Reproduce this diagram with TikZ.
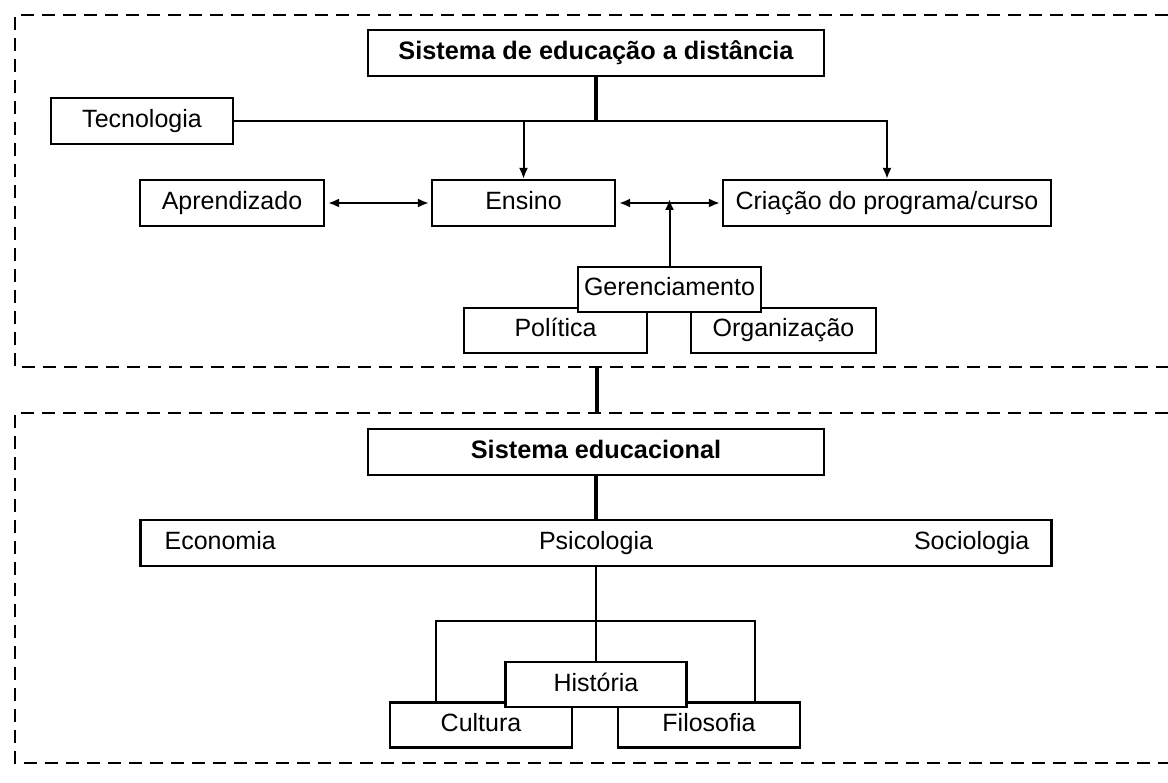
\documentclass[tikz,border=0pt]{standalone}
\usepackage{fontspec}
\setmainfont{Liberation Sans}
\usetikzlibrary{arrows.meta}

\tikzset{
  box/.style={draw, line width=2.2pt, fill=white, inner sep=0pt,
              minimum height=46pt, text height=18pt, text depth=5pt,
              font=\fontsize{25}{30}\selectfont},
  title/.style={box, font=\fontsize{25.3}{30}\selectfont\bfseries},
  lbl/.style={inner sep=0pt, text height=18pt, text depth=5pt,
              font=\fontsize{25}{30}\selectfont},
  frame/.style={line width=2.6pt, dash pattern=on 13pt off 8pt},
  link/.style={line width=2pt},
  thick link/.style={line width=4.5pt},
  tip/.style={-{Latex[length=11pt,width=9pt]}, line width=2pt},
  both tips/.style={{Latex[length=11pt,width=9pt]}-{Latex[length=11pt,width=9pt]}, line width=2pt}
}

\begin{document}
\begin{tikzpicture}[x=1pt,y=-1pt]
  \useasboundingbox (0,0) rectangle (1168,783);

  % dashed frames (open on the right)
  \draw[frame] (1168,15) -- (15,15) -- (15,367) -- (1168,367);
  \draw[frame] (1168,413) -- (15,413) -- (15,763) -- (1168,763);
  \coordinate (upperlink) at (597,367);
  \coordinate (lowerlink) at (597,413);
  \draw[thick link] (upperlink) -- (lowerlink);

  % upper system
  \node[title, minimum width=456pt] (sed) at (596,53) {Sistema de educação a distância};
  \node[box, minimum width=182pt] (tec) at (142,121) {Tecnologia};
  \node[box, minimum width=184pt] (apr) at (232,203) {Aprendizado};
  \node[box, minimum width=183pt] (ens) at (523.5,203) {Ensino};
  \node[box, minimum width=328pt] (cri) at (887,203) {Criação do programa/curso};

  \node[box, minimum width=183pt, minimum height=45pt] (pol) at (555.5,330.5) {Política};
  \node[box, minimum width=185pt, minimum height=45pt] (org) at (783.5,330.5) {Organização};
  \node[box, minimum width=183pt, minimum height=45pt] (ger) at (669.5,289.5) {Gerenciamento};

  \coordinate (junction) at (sed.south |- tec.east);
  \draw[thick link] (sed.south) -- (junction);
  \draw[link] (tec.east) -- (junction);
  \draw[tip] (tec.east) -| (cri.north);
  \draw[tip] (ens.north |- tec.east) -- (ens.north);
  \draw[both tips, shorten <=3pt, shorten >=2pt] (apr.east) -- (ens.west);
  \draw[both tips, shorten <=3pt, shorten >=2pt] (ens.east) -- (cri.west);
  \coordinate (mgmttip) at ([yshift=4pt]ger.north |- ens.east);
  \draw[tip] (ger.north) -- (mgmttip);

  % educational system
  \node[title, minimum width=456pt] (sedu) at (596,452) {Sistema educacional};
  \node[box, minimum width=911pt] (disc) at (596,543) {};
  \node[lbl, anchor=west] (eco) at ([xshift=25pt]disc.west) {Economia};
  \node[lbl] (psi) at (disc.center) {Psicologia};
  \node[lbl, anchor=east] (soc) at ([xshift=-23pt]disc.east) {Sociologia};
  \draw[thick link] (sedu.south) -- (disc.north);

  \node[box, minimum width=182pt, minimum height=45pt] (cul) at (481,725) {Cultura};
  \node[box, minimum width=182pt, minimum height=45pt] (fil) at (709,725) {Filosofia};
  \node[box, minimum width=181pt, minimum height=45pt] (his) at (596,684.5) {História};

  \draw[link] (disc.south) -- (his.north);
  \coordinate (brleft) at (436,621);
  \coordinate (brright) at (755,621);
  \draw[link] (brleft |- cul.north) -- (brleft) -- (brright) -- (brright |- fil.north);
\end{tikzpicture}
\end{document}
